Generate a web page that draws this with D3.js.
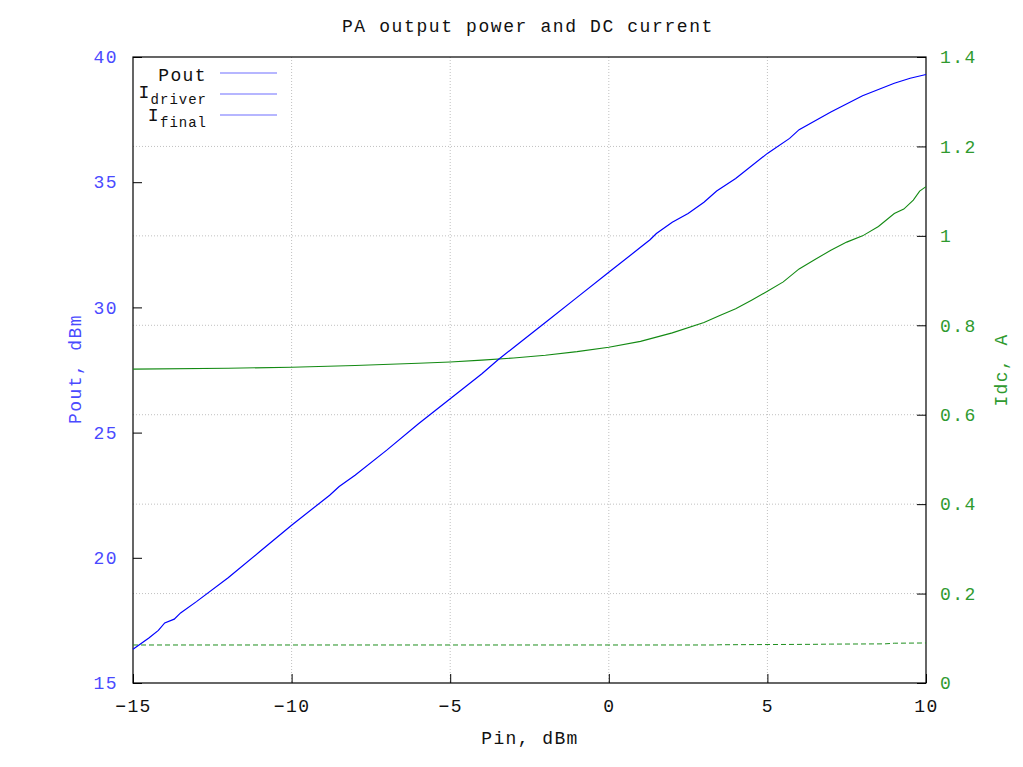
<!DOCTYPE html>
<html>
<head>
<meta charset="utf-8">
<script src="https://cdn.jsdelivr.net/npm/d3@7"></script>
<style>
  body { margin: 0; background: #fff; }
  text { font-family: "Liberation Mono", "Courier New", monospace; }
</style>
</head>
<body>
<svg id="chart" width="1023" height="767"></svg>
<script>
// Pin (dBm) vs Pout (dBm)
var pout_pin = [-15, -14.5, -14.2, -14.0, -13.7, -13.5, -13, -12, -11, -10, -9, -8.8, -8.5, -8, -7, -6, -5, -4, -3.5, -3, -2, -1, 0, 1, 1.3, 1.5, 2, 2.5, 3, 3.4, 4, 5, 5.7, 6, 7, 8, 9, 9.5, 10]
var pout_val = [16.35, 16.8, 17.1, 17.4, 17.55, 17.8, 18.25, 19.2, 20.25, 21.3, 22.3, 22.5, 22.85, 23.3, 24.3, 25.35, 26.35, 27.35, 27.9, 28.4, 29.4, 30.4, 31.4, 32.4, 32.7, 32.95, 33.4, 33.75, 34.2, 34.65, 35.15, 36.15, 36.75, 37.1, 37.8, 38.45, 38.95, 39.15, 39.3]

// final stage DC current, A
var ifinal_pin = [-15, -12, -10, -8, -6, -5, -4, -3, -2, -1, 0, 1, 2, 3, 3.5, 4, 4.5, 5, 5.5, 6, 6.5, 7, 7.5, 8, 8.5, 9, 9.3, 9.6, 9.8, 10]
var ifinal_val = [0.702, 0.704, 0.706, 0.71, 0.715, 0.718, 0.722, 0.727, 0.733, 0.741, 0.751, 0.764, 0.783, 0.806, 0.822, 0.837, 0.856, 0.876, 0.897, 0.926, 0.947, 0.968, 0.986, 1.0, 1.021, 1.05, 1.06, 1.08, 1.1, 1.11]

// driver stage DC current, A
var idriver_pin = [-15, 3.3, 3.5, 6.5, 7, 8.7, 9, 10]
var idriver_val = [0.085, 0.085, 0.0855, 0.0865, 0.087, 0.0875, 0.089, 0.0895]

var x_ticks = [-15, -10, -5, 0, 5, 10]
var y1_ticks = [15, 20, 25, 30, 35, 40]
var y2_ticks = [0, 0.2, 0.4, 0.6, 0.8, 1, 1.2, 1.4]

var svg = d3.select("#chart"),
    pl = 133, pr = 926, pt = 57, pb = 683

var x = d3.scaleLinear().domain([-15, 10]).range([pl, pr])
var y1 = d3.scaleLinear().domain([15, 40]).range([pb, pt])
var y2 = d3.scaleLinear().domain([0, 1.4]).range([pb, pt])

var blue_txt = "#4a4aff", green_txt = "#2f9a2f"

svg.append("rect").attr("width", 1023).attr("height", 767).attr("fill", "#fff")

// grid
svg.append("g").selectAll("line")
  .data([-10, -5, 0, 5])
  .enter().append("line")
    .attr("x1", function(d) { return x(d) }).attr("x2", function(d) { return x(d) })
    .attr("y1", pt).attr("y2", pb)
    .attr("stroke", "#c0c0c0").attr("stroke-dasharray", "1,2")

svg.append("g").selectAll("line")
  .data([0.2, 0.4, 0.6, 0.8, 1, 1.2])
  .enter().append("line")
    .attr("y1", function(d) { return y2(d) }).attr("y2", function(d) { return y2(d) })
    .attr("x1", pl).attr("x2", pr)
    .attr("stroke", "#c0c0c0").attr("stroke-dasharray", "1,2")

// axes
var gx = svg.append("g").attr("transform", "translate(0," + pb + ")")
  .call(d3.axisBottom(x).tickValues(x_ticks).tickSize(-9).tickPadding(16)
    .tickFormat(function(d) { return d < 0 ? "\u2212" + (-d) : d }))
gx.selectAll("text").attr("fill", "#111").attr("font-size", "18px")

var gy1 = svg.append("g").attr("transform", "translate(" + pl + ",0)")
  .call(d3.axisLeft(y1).tickValues(y1_ticks).tickSize(-9).tickPadding(15))
gy1.selectAll("text").attr("fill", blue_txt).attr("font-size", "18px")

var gy2 = svg.append("g").attr("transform", "translate(" + pr + ",0)")
  .call(d3.axisRight(y2).tickValues(y2_ticks).tickSize(-9).tickPadding(14)
    .tickFormat(function(d) { return d3.format("~g")(d) }))
gy2.selectAll("text").attr("fill", green_txt).attr("font-size", "18px")

svg.selectAll(".domain").remove()
svg.selectAll(".tick line").attr("stroke", "#000")
svg.selectAll("g text").attr("font-family", "Liberation Mono, Courier New, monospace").attr("letter-spacing", "1.4px")

svg.append("rect")
  .attr("x", pl).attr("y", pt)
  .attr("width", pr - pl).attr("height", pb - pt)
  .attr("fill", "none").attr("stroke", "#000").attr("stroke-width", 1.2)

// curves
var line_fn = function(yscale) {
  return d3.line().x(function(d) { return x(d[0]) }).y(function(d) { return yscale(d[1]) })
}

svg.append("path")
  .datum(d3.zip(idriver_pin, idriver_val))
  .attr("d", line_fn(y2))
  .attr("fill", "none").attr("stroke", "#1f8f1f").attr("stroke-width", 1).attr("stroke-dasharray", "5,3")

svg.append("path")
  .datum(d3.zip(ifinal_pin, ifinal_val))
  .attr("d", line_fn(y2))
  .attr("fill", "none").attr("stroke", "#138a13").attr("stroke-width", 1.1)

svg.append("path")
  .datum(d3.zip(pout_pin, pout_val))
  .attr("d", line_fn(y1))
  .attr("fill", "none").attr("stroke", "#0000ff").attr("stroke-width", 1.2)

// legend
var leg = svg.append("g").attr("font-size", "18px").attr("letter-spacing", "1.4px").attr("fill", "#111")
leg.append("text").attr("x", 207).attr("y", 81).attr("text-anchor", "end").text("Pout")
var t2 = leg.append("text").attr("x", 207).attr("y", 98).attr("text-anchor", "end")
t2.append("tspan").text("I")
t2.append("tspan").attr("dy", 6).attr("font-size", "14px").attr("letter-spacing", "1px").text("driver")
var t3 = leg.append("text").attr("x", 207).attr("y", 121).attr("text-anchor", "end")
t3.append("tspan").text("I")
t3.append("tspan").attr("dy", 6).attr("font-size", "14px").attr("letter-spacing", "1px").text("final")

leg.selectAll("line")
  .data([73, 94, 115])
  .enter().append("line")
    .attr("x1", 220).attr("x2", 277)
    .attr("y1", function(d) { return d }).attr("y2", function(d) { return d })
    .attr("stroke", "#6e6eff").attr("stroke-width", 1.2)

// titles
svg.append("text").attr("x", 528).attr("y", 32).attr("text-anchor", "middle").attr("fill", "#111")
  .attr("font-size", "18px").attr("letter-spacing", "1.6px").text("PA output power and DC current")

svg.append("text").attr("x", 530).attr("y", 744).attr("text-anchor", "middle").attr("fill", "#111")
  .attr("font-size", "18px").attr("letter-spacing", "1.4px").text("Pin, dBm")

svg.append("text").attr("transform", "translate(81,369) rotate(-90)").attr("text-anchor", "middle")
  .attr("font-size", "18px").attr("letter-spacing", "1.4px").attr("fill", blue_txt).text("Pout, dBm")

svg.append("text").attr("transform", "translate(1007,370) rotate(-90)").attr("text-anchor", "middle")
  .attr("font-size", "18px").attr("letter-spacing", "1.4px").attr("fill", green_txt).text("Idc, A")
</script>
</body>
</html>
